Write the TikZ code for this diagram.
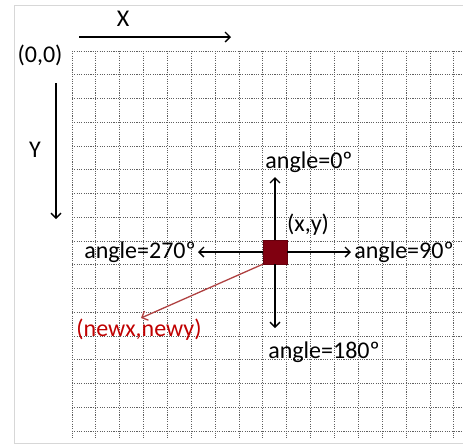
\documentclass[tikz,border=0pt]{standalone}
\usepackage{fontspec}
\setmainfont{Carlito}
\usetikzlibrary{arrows.meta}
\definecolor{sqred}{RGB}{128,0,16}
\definecolor{txtred}{RGB}{192,0,0}
\definecolor{linered}{RGB}{175,65,65}
\definecolor{framegray}{RGB}{215,215,215}
\definecolor{gridgray}{RGB}{95,95,95}
\tikzset{
  lbl/.style={inner sep=0pt, font=\fontsize{24}{28}\selectfont},
  gridline/.style={draw=gridgray, line width=1pt, dash pattern=on 1.1pt off 1.2pt},
  arr/.style={line width=1.4pt, -{Straight Barb[length=5pt,width=10pt,line width=1.4pt]}},
  redarr/.style={draw=linered, line width=1.3pt, -{Straight Barb[length=5pt,width=10pt,line width=1.3pt]}},
  square/.style={draw=sqred!80!black, fill=sqred, minimum size=24pt, inner sep=0pt}
}
\begin{document}
\begin{tikzpicture}[x=1pt,y=-1pt]
\useasboundingbox (0,0) rectangle (463,445);
% outer frame
\draw[framegray, line width=1pt] (463,5) -- (14,5) -- (14,443) -- (463,443);
% grid
\foreach \k in {0,...,16} {
  \draw[gridline] ({72+23.87*\k},51) -- ({72+23.87*\k},438);
  \draw[gridline] (72,{51+23.75*\k}) -- (463,{51+23.75*\k});
}
\draw[gridline] (72,51) -- (463,51);
\draw[gridline] (72,51) -- (72,438);
% axes labels
\node[lbl] (xlab) at (123,19) {X};
\node[lbl] (origin) at (40,55) {(0,0)};
\node[lbl] (ylab) at (35,150) {Y};
\coordinate (xs) at (79,37);
\coordinate (xe) at (231,37);
\coordinate (ys) at (56,83);
\coordinate (ye) at (56,219);
\draw[arr] (xs) -- (xe);
\draw[arr] (ys) -- (ye);
% square
\node[square] (sq) at (275,252) {};
\coordinate (up) at (275,177);
\coordinate (dn) at (275,328);
\coordinate (rt) at (351,252);
\coordinate (lf) at (198,252);
\coordinate (nw) at (141,318);
\draw[arr] (sq.north) -- (up);
\draw[arr] (sq.south) -- (dn);
\draw[arr] (sq.east) -- (rt);
\draw[arr] (sq.west) -- (lf);
\draw[redarr] (sq.south west) -- (nw);
% labels
\node[lbl] (a0) at (309,162) {angle=0º};
\node[lbl] (a180) at (324,352) {angle=180º};
\node[lbl] (a90) at (404,252) {angle=90º};
\node[lbl] (a270) at (140,252) {angle=270º};
\node[lbl] (xy) at (308,225) {(x,y)};
\node[lbl, text=txtred] (nxy) at (139,330) {(newx,newy)};
\end{tikzpicture}
\end{document}
